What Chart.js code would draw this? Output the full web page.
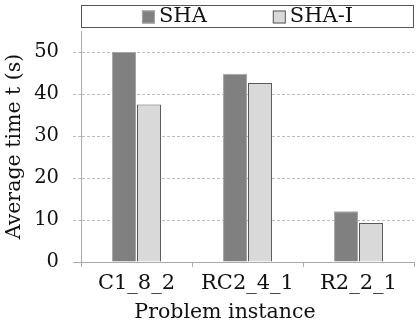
<!DOCTYPE html>
<html>
<head>
<meta charset="utf-8">
<script src="https://cdn.jsdelivr.net/npm/chart.js@4/dist/chart.umd.min.js"></script>
<style>
  html, body { margin: 0; padding: 0; background: #fff; }
  #wrap { width: 418px; height: 332px; }
</style>
</head>
<body>
<div id="wrap"><canvas id="timeChart" width="418" height="332"></canvas></div>
<script>
const instances = ["C1_8_2", "RC2_4_1", "R2_2_1"];
const shaTimes = [50.0, 44.8, 12.1];
const shaITimes = [37.5, 42.6, 9.3];
const seriesNames = ["SHA", "SHA-I"];
const yTicks = [0, 10, 20, 30, 40, 50];
const xTitle = "Problem instance";

const fontFamily = "'DejaVu Serif'";
const textColor = "#111";
const axisColor = "#aaaaaa";

const fills = ["#808080", "#d9d9d9"];
const borders = ["#a6a6a6", "#595959"];

// legend in a framed box above the plot area, plus the x title
// centred under the whole axis block (tick labels included)
const boxedLegend = {
  id: "boxedLegend",
  afterDraw(chart) {
    const ctx = chart.ctx;
    const area = chart.chartArea;
    const top = 5, bottom = 27;
    ctx.save();
    ctx.strokeStyle = "#555";
    ctx.lineWidth = 1;
    ctx.strokeRect(area.left + 0.5, top + 0.5, area.right - area.left - 1, bottom - top);
    ctx.font = "21px " + fontFamily;
    ctx.textBaseline = "middle";
    const box = 13, gap = 4, between = 66;
    const widths = seriesNames.map((n) => ctx.measureText(n).width);
    const total = widths.reduce((a, w) => a + box + gap + w, 0) + between;
    let x = (area.left + area.right) / 2 - total / 2;
    const midY = (top + bottom) / 2 + 1;
    seriesNames.forEach((name, i) => {
      ctx.fillStyle = fills[i];
      ctx.fillRect(x, midY - box / 2, box, box);
      ctx.strokeStyle = borders[i];
      ctx.strokeRect(x + 0.5, midY - box / 2 + 0.5, box - 1, box - 1);
      ctx.fillStyle = textColor;
      ctx.fillText(name, x + box + gap, midY);
      x += box + gap + widths[i] + between;
    });

    ctx.font = "20.5px " + fontFamily;
    ctx.textAlign = "center";
    ctx.textBaseline = "alphabetic";
    ctx.fillStyle = textColor;
    ctx.fillText(xTitle, (area.left - 45 + area.right) / 2, 318);
    ctx.restore();
  },
};

const ctx = document.getElementById("timeChart").getContext("2d");

new Chart(ctx, {
  type: "bar",
  data: {
    labels: instances,
    datasets: [
      {
        label: seriesNames[0],
        data: shaTimes,
        backgroundColor: fills[0],
        borderColor: borders[0],
        borderWidth: 1,
      },
      {
        label: seriesNames[1],
        data: shaITimes,
        backgroundColor: fills[1],
        borderColor: borders[1],
        borderWidth: 1,
      },
    ],
  },
  options: {
    responsive: false,
    animation: false,
    devicePixelRatio: 1,
    layout: { padding: { top: 31, right: 4, left: 0, bottom: 0 } },
    datasets: {
      bar: { categoryPercentage: 0.45, barPercentage: 0.96 },
    },
    plugins: {
      legend: { display: false },
      tooltip: { enabled: false },
    },
    scales: {
      x: {
        grid: {
          drawOnChartArea: false,
          tickLength: 5,
          color: axisColor,
        },
        border: { display: true, color: axisColor, width: 1 },
        ticks: {
          color: textColor,
          font: { family: fontFamily, size: 21 },
          padding: 4,
          maxRotation: 0,
        },
        title: { display: false },
        afterFit(scale) {
          scale.height = 70;
        },
      },
      y: {
        min: 0,
        max: 55,
        afterBuildTicks(scale) {
          scale.ticks = yTicks.map((v) => ({ value: v }));
        },
        grid: {
          color: (c) => (c.tick && c.tick.value === 0 ? "rgba(0,0,0,0)" : "#bdbdbd"),
          tickColor: (c) => (c.tick && c.tick.value === 0 ? axisColor : "#bdbdbd"),
          tickBorderDash: (c) => (c.tick && c.tick.value === 0 ? [] : [3, 2]),
          tickLength: 8,
          lineWidth: 1,
        },
        border: { display: true, color: axisColor, width: 1, dash: [3, 2] },
        ticks: {
          color: textColor,
          font: { family: fontFamily, size: 19.5 },
          padding: 14,
        },
        title: {
          display: true,
          text: "Average time t (s)",
          color: textColor,
          font: { family: fontFamily, size: 20.5 },
          padding: { top: 2, bottom: 0 },
        },
        afterFit(scale) {
          scale.width = 81;
        },
      },
    },
  },
  plugins: [boxedLegend],
});
</script>
</body>
</html>
